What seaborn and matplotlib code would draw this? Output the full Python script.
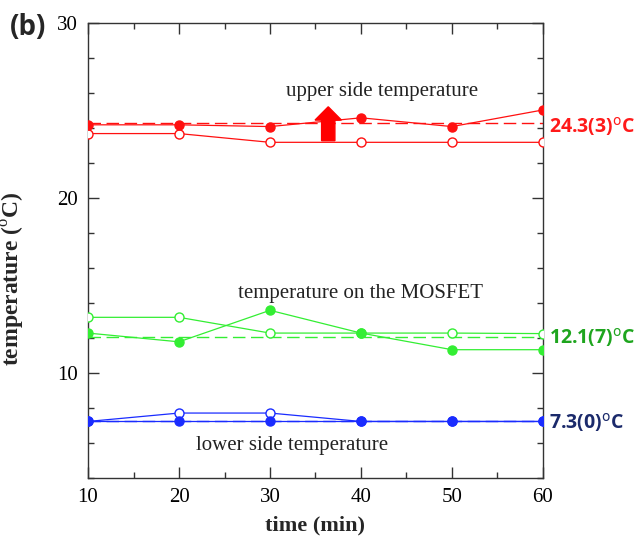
import numpy as np
import pandas as pd
import matplotlib
matplotlib.use("Agg")
import matplotlib.pyplot as plt
from matplotlib.ticker import MultipleLocator
import seaborn as sns

# ---- data ----
time_min = [10, 20, 30, 40, 50, 60]
upper_filled = [24.2, 24.2, 24.1, 24.6, 24.1, 25.05]
upper_open = [23.7, 23.7, 23.2, 23.2, 23.2, 23.2]
mosfet_filled = [12.3, 11.8, 13.6, 12.3, 11.35, 11.35]
mosfet_open = [13.2, 13.2, 12.3, 12.3, 12.3, 12.27]
lower_filled = [7.25, 7.25, 7.25, 7.25, 7.25, 7.25]
lower_open = [7.25, 7.73, 7.73, 7.25, 7.25, 7.25]
mean_values = [24.3, 12.07, 7.25]
mean_labels = ["24.3(3)", "12.1(7)", "7.3(0)"]
series_notes = ["upper side temperature", "temperature on the MOSFET", "lower side temperature"]
x_ticks = [10, 20, 30, 40, 50, 60]
y_ticks = [10, 20, 30]

line_colors = ["#ff1010", "#33ee33", "#1a2cff"]
label_colors = ["#ff1a1a", "#1ea51e", "#1b2a6b"]

sns.set_theme(style="ticks")
plt.rcParams["font.family"] = ["Liberation Serif", "DejaVu Serif"]
plt.rcParams["mathtext.fontset"] = "custom"
plt.rcParams["mathtext.rm"] = "Liberation Serif"

fig = plt.figure(figsize=(6.35, 5.36), dpi=100)
ax = fig.add_axes([0.1386, 0.1076, 0.7165, 0.8489])

groups = [
    (upper_filled, upper_open),
    (mosfet_filled, mosfet_open),
    (lower_filled, lower_open),
]

for i, (filled, opened) in enumerate(groups):
    c = line_colors[i]
    ax.hlines(mean_values[i], time_min[0], time_min[-1], colors=c, linestyles=(0, (9, 4)),
              linewidth=1.0, zorder=2)
    df_o = pd.DataFrame({"t": time_min, "T": opened})
    sns.lineplot(data=df_o, x="t", y="T", ax=ax, color=c, linewidth=0.9, marker="o",
                 markersize=6.5, markerfacecolor="white", markeredgecolor=c,
                 markeredgewidth=1.0, zorder=3)
    df_f = pd.DataFrame({"t": time_min, "T": filled})
    sns.lineplot(data=df_f, x="t", y="T", ax=ax, color=c, linewidth=0.9, marker="o",
                 markersize=6.5, markerfacecolor=c, markeredgecolor=c,
                 markeredgewidth=1.0, zorder=4)

ax.set_xlim(10, 60)
ax.set_ylim(4, 30)
ax.set_xticks(x_ticks)
ax.set_yticks(y_ticks)
ax.xaxis.set_minor_locator(MultipleLocator(5))
ax.yaxis.set_minor_locator(MultipleLocator(2))
ax.tick_params(which="both", direction="in", top=True, right=True, colors="#333333",
               labelcolor="black", width=1.0)
ax.tick_params(which="major", length=8, labelsize=15, pad=7)
ax.tick_params(which="minor", length=4)
for s in ax.spines.values():
    s.set_color("#333333")
    s.set_linewidth(1.0)

ax.set_xlabel("time (min)", fontsize=16, fontweight="bold", labelpad=6)
ax.set_ylabel(r"temperature ($^{\mathrm{o}}$C)", fontsize=17, fontweight="bold")
ax.yaxis.set_label_coords(-0.134, 0.44)

# series annotations
ax.text(42.3, 26.1, series_notes[0], fontsize=15, ha="center", va="center", color="#222222")
ax.text(39.9, 14.55, series_notes[1], fontsize=15, ha="center", va="center", color="#222222")
ax.text(32.4, 5.9, series_notes[2], fontsize=15, ha="center", va="center", color="#222222")

# red arrow
ax.add_patch(matplotlib.patches.FancyArrow(36.4, 23.29, 0, 1.94, width=1.46, head_width=2.9,
                                           head_length=0.76, length_includes_head=True,
                                           color="#ff0000", zorder=5))

# mean value labels on the right
label_y = [24.1, 12.07, 7.2]
for i in range(3):
    ax.text(1.014, label_y[i], mean_labels[i] + r"$^{\mathrm{o}}$C",
            transform=ax.get_yaxis_transform(), fontsize=14, fontweight="bold",
            color=label_colors[i], ha="left", va="center",
            family=["Open Sans", "DejaVu Sans"], math_fontfamily="dejavusans")

fig.text(0.016, 0.948, "(b)", fontsize=20, fontweight="bold", va="center",
         family=["Open Sans", "DejaVu Sans"])

fig.savefig("out.png", dpi=100)
